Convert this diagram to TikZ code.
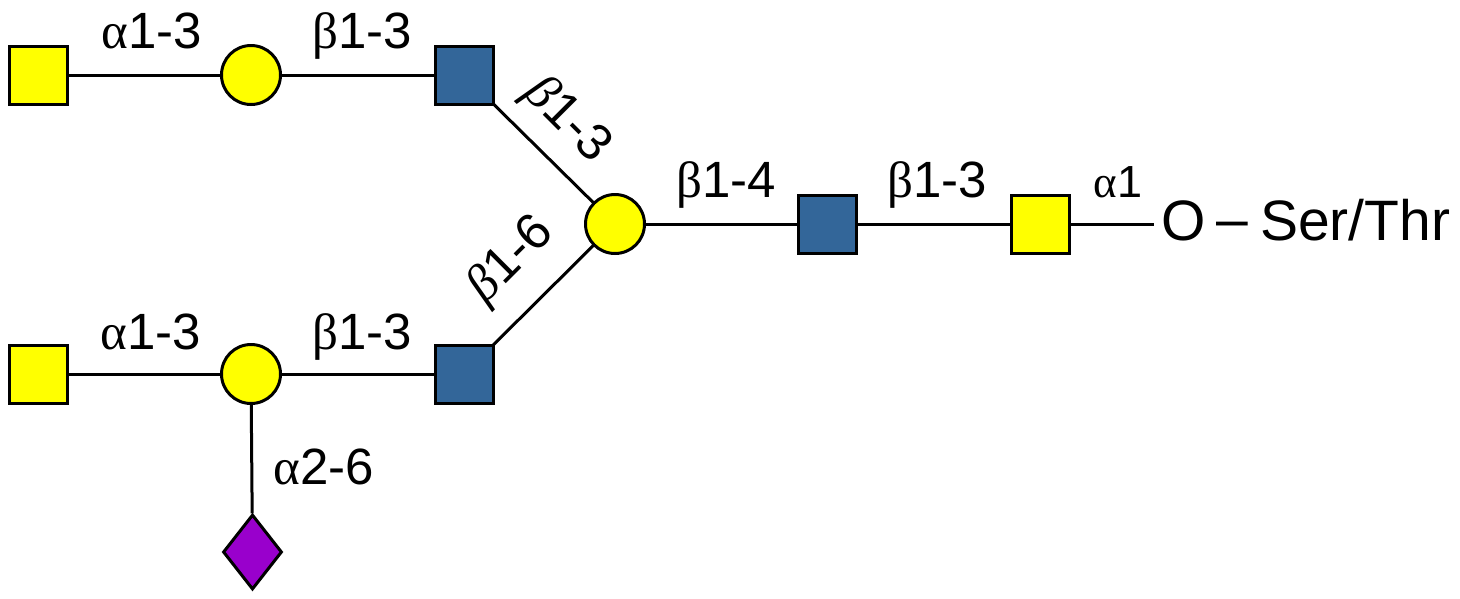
\documentclass[tikz,border=0pt]{standalone}
\usepackage{fontspec}
\setmainfont{Liberation Sans}
\newfontfamily\grk{Liberation Serif}
\usetikzlibrary{shapes.geometric,backgrounds}
\definecolor{galyellow}{RGB}{255,255,0}
\definecolor{glcblue}{RGB}{51,102,153}
\definecolor{siapurple}{RGB}{153,0,204}
\tikzset{
  bond/.style={line width=3pt, black},
  sqyellow/.style={rectangle, draw=black, line width=3pt, fill=galyellow, minimum width=58pt, minimum height=58pt, inner sep=0pt},
  sqblue/.style={rectangle, draw=black, line width=3pt, fill=glcblue, minimum width=58pt, minimum height=58pt, inner sep=0pt},
  circyellow/.style={circle, draw=black, line width=3pt, fill=galyellow, minimum size=59pt, inner sep=0pt},
  diapurple/.style={diamond, draw=black, line width=3pt, fill=siapurple, minimum width=59pt, minimum height=75pt, inner sep=0pt, aspect=0.8},
  lab/.style={inner sep=0pt, anchor=base, font=\fontsize{51}{55}\selectfont},
  dlab/.style={inner sep=0pt, font=\fontsize{51}{55}\selectfont},
}
\begin{document}
\begin{tikzpicture}[x=1pt, y=-1pt]
\useasboundingbox (0,0) rectangle (1460,598);
% top branch
\node[sqyellow] (s1) at (38,75) {};
\node[circyellow] (c1) at (251,75) {};
\node[sqblue] (b1) at (464,75) {};
% core
\node[circyellow] (c0) at (615,224) {};
\node[sqblue] (b0) at (827,224) {};
\node[sqyellow] (y0) at (1040,224) {};
\node[inner sep=0pt, anchor=base west, font=\fontsize{57}{62}\selectfont] (oser) at (1161,240) {O\hspace{0.2em}\raisebox{2pt}{–}\hspace{0.2em}Ser/Thr};
% bottom branch
\node[sqyellow] (s2) at (38,374) {};
\node[circyellow] (c2) at (251,374) {};
\node[sqblue] (b2) at (464,374) {};
\node[diapurple] (d2) at (252.5,552) {};
% bonds
\begin{scope}[on background layer]
\draw[bond] (s1) -- (c1);
\draw[bond] (c1) -- (b1);
\draw[bond] (b1.center) -- (c0.center);
\draw[bond] (b2.center) -- (c0.center);
\draw[bond] (c0) -- (b0);
\draw[bond] (b0) -- (y0);
\draw[bond, shorten >=7pt] (y0) -- (y0 -| oser.west);
\draw[bond] (s2) -- (c2);
\draw[bond] (c2) -- (b2);
\draw[bond] (c2) -- (d2);
\end{scope}
% labels
\node[lab] (l1) at (152,48) {{\grk α}1-3};
\node[lab] (l2) at (362,48) {{\grk β}1-3};
\node[dlab, rotate=-45] (l3) at (566,121) {{\grk\itshape β}1-3};
\node[dlab, rotate=45] (l4) at (512,261) {{\grk\itshape β}1-6};
\node[lab] (l5) at (726,197) {{\grk β}1-4};
\node[lab] (l6) at (937,197) {{\grk β}1-3};
\node[lab, font=\fontsize{45}{50}\selectfont] (l7) at (1118,197) {{\grk α}1};
\node[lab] (l8) at (151,349) {{\grk α}1-3};
\node[lab] (l9) at (362,349) {{\grk β}1-3};
\node[lab] (l10) at (324,484) {{\grk α}2-6};
\end{tikzpicture}
\end{document}
